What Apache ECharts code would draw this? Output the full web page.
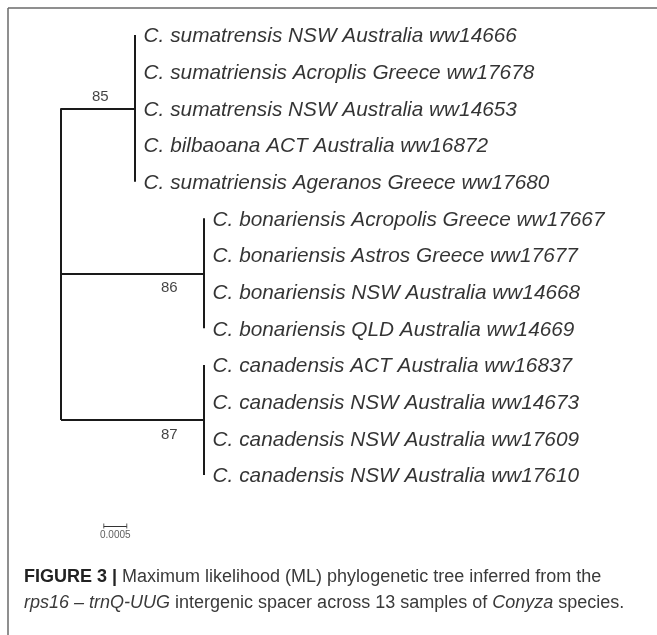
<!DOCTYPE html>
<html>
	<head>
		<meta charset="utf-8" />
		<title></title>
		<script type="text/javascript" src="https://cdn.jsdelivr.net/npm/echarts@6.0.0/dist/echarts.min.js"></script>
		<style>
			html, body { margin: 0; padding: 0; background: #fff; }
		</style>
	</head>
	<body>
		<div id="main" style="width: 657px;height: 635px;"></div>
		<script type="text/javascript">
	// tip names, one list per clade (top to bottom)
	var clades = [
		['C. sumatrensis NSW Australia ww14666',
		 'C. sumatriensis Acroplis Greece ww17678',
		 'C. sumatrensis NSW Australia ww14653',
		 'C. bilbaoana ACT Australia ww16872',
		 'C. sumatriensis Ageranos Greece ww17680'],
		['C. bonariensis Acropolis Greece ww17667',
		 'C. bonariensis Astros Greece ww17677',
		 'C. bonariensis NSW Australia ww14668',
		 'C. bonariensis QLD Australia ww14669'],
		['C. canadensis ACT Australia ww16837',
		 'C. canadensis NSW Australia ww14673',
		 'C. canadensis NSW Australia ww17609',
		 'C. canadensis NSW Australia ww17610']
	];
	// branch length from root to each clade node (substitutions/site)
	var stemLengths = [0.0016, 0.0031, 0.0031];
	// tip branch lengths (all zero, tips sit on the clade node)
	var tipLengths = [[0, 0, 0, 0, 0], [0, 0, 0, 0], [0, 0, 0, 0]];
	var bootstrap = [85, 86, 87];
	var scaleBarLength = 0.0005;
	var scaleBarLabel = '0.0005';

	// build segments / points from the tree
	var segments = [];
	var tips = [];
	var nodes = [];
	var row = 0;
	var nodeRows = [];
	for (var c = 0; c < clades.length; c++) {
		var first = row;
		var last = row + clades[c].length - 1;
		var ny = (first + last) / 2;
		var nx = stemLengths[c];
		nodeRows.push(ny);
		segments.push({coords: [[0, ny], [nx, ny]]});
		segments.push({coords: [[nx, first], [nx, last]]});
		for (var i = 0; i < clades[c].length; i++) {
			var tx = nx + tipLengths[c][i];
			if (tipLengths[c][i] > 0) {
				segments.push({coords: [[nx, row], [tx, row]]});
			}
			tips.push([tx, row, clades[c][i]]);
			row++;
		}
		nodes.push({
			value: [nx, ny, bootstrap[c]],
			label: {offset: [0, c === 0 ? -11 : 14.5]}
		});
	}
	// root
	segments.push({coords: [[0, nodeRows[0]], [0, nodeRows[nodeRows.length - 1]]]});

	// scale bar placement (layout only)
	var sbX = 0.00093, sbRow = 13.39;
	var scaleSegs = [
		{coords: [[sbX, sbRow], [sbX + scaleBarLength, sbRow]]}
	];

	var myChart = echarts.init(document.getElementById('main'));
	var font = "'Liberation Sans', Arial, Helvetica, sans-serif";
	option = {
		animation: false,
		backgroundColor: '#fff',
		grid: {left: 61, top: 35, width: 575, height: 495},
		xAxis: {type: 'value', min: 0, max: 0.0125, show: false},
		yAxis: {type: 'value', min: 0, max: 13.5, inverse: true, show: false},
		title: {
			left: 24,
			top: 564,
			padding: 0,
			text: '{b|FIGURE 3 |} {n|Maximum likelihood (ML) phylogenetic tree inferred from the}\n' +
				'{i|rps16 \u2013 trnQ-UUG}{n| intergenic spacer across 13 samples of }{i|Conyza}{n| species.}',
			textStyle: {
				fontFamily: font,
				fontSize: 18,
				fontWeight: 'normal',
				lineHeight: 26,
				color: '#3a3a3a',
				rich: {
					b: {fontFamily: font, fontSize: 18, lineHeight: 26, fontWeight: 'bold', color: '#222'},
					n: {fontFamily: font, fontSize: 18, lineHeight: 26, fontWeight: 'normal', color: '#3a3a3a'},
					i: {fontFamily: font, fontSize: 18, lineHeight: 26, fontWeight: 'normal', fontStyle: 'italic', color: '#3a3a3a'}
				}
			}
		},
		graphic: [
			// figure frame (top and left edges)
			{type: 'line', shape: {x1: 8, y1: 8, x2: 657, y2: 8}, style: {stroke: '#6a6a6a', lineWidth: 1.5}},
			{type: 'line', shape: {x1: 8, y1: 8, x2: 8, y2: 635}, style: {stroke: '#6a6a6a', lineWidth: 1.5}}
		],
		series: [
			{
				type: 'lines',
				coordinateSystem: 'cartesian2d',
				silent: true,
				lineStyle: {color: '#1a1a1a', width: 2, opacity: 1},
				data: segments
			},
			{
				type: 'lines',
				coordinateSystem: 'cartesian2d',
				silent: true,
				lineStyle: {color: '#333', width: 1, opacity: 1},
				data: scaleSegs
			},
			{
				// scale bar end caps
				type: 'scatter',
				silent: true,
				symbol: 'rect',
				symbolSize: [1, 5],
				itemStyle: {color: '#333'},
				data: [[sbX, sbRow], [sbX + scaleBarLength, sbRow]]
			},
			{
				type: 'scatter',
				silent: true,
				symbolSize: 0,
				data: [[sbX + scaleBarLength / 2, sbRow, scaleBarLabel]],
				label: {
					show: true,
					position: 'bottom',
					distance: 4,
					formatter: function (p) { return p.value[2]; },
					fontFamily: font,
					fontSize: 10,
					color: '#333'
				}
			},
			{
				// tip labels
				type: 'scatter',
				silent: true,
				symbolSize: 0,
				data: tips,
				label: {
					show: true,
					position: 'right',
					distance: 9,
					offset: [0, 1.5],
					formatter: function (p) { return p.value[2]; },
					fontFamily: font,
					fontSize: 20.8,
					fontStyle: 'italic',
					color: '#000'
				}
			},
			{
				// bootstrap support
				type: 'scatter',
				silent: true,
				symbolSize: 0,
				data: nodes,
				label: {
					show: true,
					position: 'left',
					distance: 26,
					formatter: function (p) { return p.value[2]; },
					fontFamily: font,
					fontSize: 15,
					color: '#111'
				}
			}
		]
	};
	myChart.setOption(option);
	</script>
	</body>
</html>
